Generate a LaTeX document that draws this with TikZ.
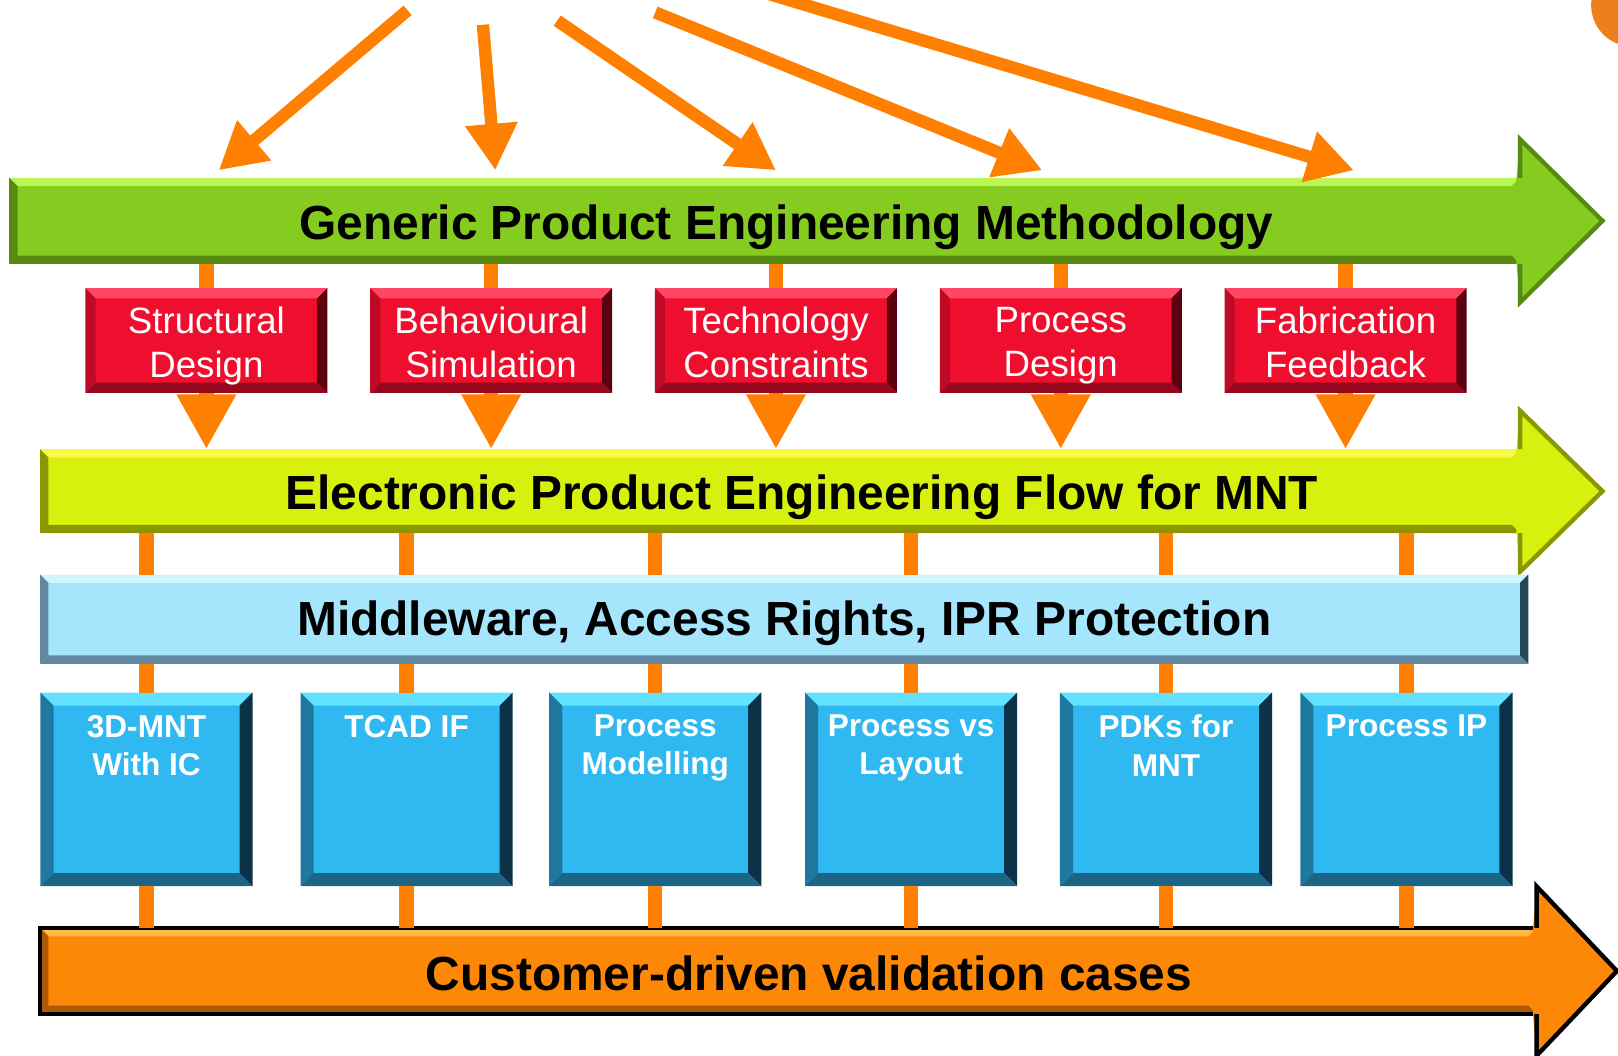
\documentclass[tikz,border=0pt]{standalone}
\usepackage{fontspec}
\setmainfont{Liberation Sans}
\usetikzlibrary{arrows.meta,positioning}

\definecolor{linkOrange}{RGB}{255,128,0}
\definecolor{circOrange}{RGB}{236,128,26}
\definecolor{greenBody}{RGB}{134,204,32}
\definecolor{greenLight}{RGB}{186,246,84}
\definecolor{greenDark}{RGB}{88,138,18}
\definecolor{limeBody}{RGB}{216,240,14}
\definecolor{limeLight}{RGB}{250,250,70}
\definecolor{limeDark}{RGB}{140,150,0}
\definecolor{mwBody}{RGB}{166,230,252}
\definecolor{mwLight}{RGB}{205,246,255}
\definecolor{mwDark}{RGB}{40,70,90}
\definecolor{mwShade}{RGB}{96,136,160}
\definecolor{cdvcBody}{RGB}{253,136,8}
\definecolor{cdvcLight}{RGB}{255,186,70}
\definecolor{cdvcDark}{RGB}{170,90,0}
\definecolor{redBody}{RGB}{240,14,46}
\definecolor{redLight}{RGB}{255,70,100}
\definecolor{redDark}{RGB}{90,0,15}
\definecolor{redShade}{RGB}{150,8,30}
\definecolor{redSide}{RGB}{190,10,38}
\definecolor{blueBody}{RGB}{48,184,240}
\definecolor{blueLight}{RGB}{100,225,255}
\definecolor{blueDark}{RGB}{12,50,72}
\definecolor{blueShade}{RGB}{30,100,135}
\definecolor{blueSide}{RGB}{30,120,160}

\newcommand{\bevel}[6]{
	\fill[#2] (#1.north west) -- (#1.north east) -- ([shift={(-#6,-#6)}]#1.north east) -- ([shift={(#6,-#6)}]#1.north west) -- cycle;
	\fill[#3] (#1.north east) -- (#1.south east) -- ([shift={(-#6,#6)}]#1.south east) -- ([shift={(-#6,-#6)}]#1.north east) -- cycle;
	\fill[#4] (#1.south east) -- (#1.south west) -- ([shift={(#6,#6)}]#1.south west) -- ([shift={(-#6,#6)}]#1.south east) -- cycle;
	\fill[#5] (#1.south west) -- (#1.north west) -- ([shift={(#6,-#6)}]#1.north west) -- ([shift={(#6,#6)}]#1.south west) -- cycle;
}

\newcommand{\arrowhead}[5]{
	\fill[#2] ([xshift=-1pt]#1.north east) -- ([yshift=#4]#1.east) -- (#5) -- ([yshift=-#4]#1.east) -- ([xshift=-1pt]#1.south east) -- cycle;
	\draw[#3, line width=1.2pt] (#1.north east) -- ([yshift=#4]#1.east) -- (#5) -- ([yshift=-#4]#1.east) -- (#1.south east);
}

\begin{document}
\begin{tikzpicture}[x=0.01cm, y=-0.01cm,
	bar/.style={minimum height=0.82cm, inner sep=0pt},
	bartext/.style={font=\fontsize{13.2}{16}\selectfont\bfseries, text=black},
	redbox/.style={fill=redBody, minimum width=2.33cm, minimum height=1cm, inner sep=0pt},
	redtext/.style={text=white, align=center, font=\fontsize{10.1}{12.2}\selectfont, inner sep=0pt, execute at begin node=\strut, execute at end node=\strut},
	bluebox/.style={fill=blueBody, minimum width=2.04cm, minimum height=1.86cm, inner sep=0pt},
	bluetext/.style={text=white, align=center, font=\fontsize{8.7}{10.5}\selectfont\bfseries, inner sep=0pt},
	link/.style={draw=linkOrange, line width=0.14cm},
	feed/.style={draw=linkOrange, line width=0.12cm, -{Triangle[width=0.48cm, length=0.45cm]}},
]
\clip (0,0) rectangle (1568,1023);

\fill[circOrange] (1582,5) circle (0.4cm);

\node[bar, fill=greenBody, minimum width=14.62cm] (gpem) at (741,214) {};
\bevel{gpem}{greenLight}{greenBody}{greenDark}{greenDark}{2.3pt}
\arrowhead{gpem}{greenBody}{greenDark}{0.79cm}{1553,214}
\node[bartext] (gpemtext) at (762,220) {Generic Product Engineering Methodology};

\node[bar, fill=limeBody, minimum width=14.32cm, minimum height=0.8cm] (epef) at (756,476) {};
\bevel{epef}{limeLight}{limeBody}{limeDark}{limeDark}{2.3pt}
\arrowhead{epef}{limeBody}{limeDark}{0.78cm}{1553,476}
\node[bartext] (epeftext) at (777,482) {Electronic Product Engineering Flow for MNT};

\node[bar, fill=mwBody, minimum width=14.4cm, minimum height=0.85cm] (mw) at (760,600) {};
\bevel{mw}{mwLight}{mwDark}{mwShade}{mwShade}{2.3pt}
\node[bartext] (mwtext) at (760,604) {Middleware, Access Rights, IPR Protection};

\node[bar, fill=cdvcBody, minimum width=14.48cm] (cdvc) at (764,941) {};
\bevel{cdvc}{cdvcLight}{cdvcBody}{cdvcDark}{cdvcDark}{2.3pt}
\draw[black, line width=1.2pt] (cdvc.north east) -- (cdvc.north west) -- (cdvc.south west) -- (cdvc.south east);
\arrowhead{cdvc}{cdvcBody}{black}{0.82cm}{1567,941}
\node[bartext] (cdvctext) at (784,943) {Customer-driven validation cases};

\foreach \i/\sx/\sy/\tx in {1/395/10/212, 2/468/24/480, 3/540/20/752, 4/635/12/1010, 5/738/-8/1312} {
	\coordinate (s\i) at (\sx,\sy);
	\coordinate (e\i) at (\tx,165);
	\draw[feed] (s\i) -- (e\i);
}

\foreach \i/\x/\txt in {1/200/{Structural\\Design}, 2/476/{Behavioural\\Simulation}, 3/752/{Technology\\Constraints}, 4/1028/{Process\\Design}, 5/1304/{Fabrication\\Feedback}} {
	\node[redbox] (r\i) at (\x,330) {};
	\bevel{r\i}{redLight}{redDark}{redShade}{redSide}{2.8pt}
	\node[redtext] (rt\i) at ([yshift=-0.08cm]r\i.center) {\txt};
	\draw[link] (gpem.south -| r\i.north) -- (r\i.north);
	\draw[link, -{Triangle[width=0.54cm, length=0.53cm]}] (r\i.south) -- (epef.north -| r\i.south);
}

\foreach \i/\x/\txt in {1/142/{3D-MNT\\With IC}, 2/394/{TCAD IF}, 3/635/{Process\\Modelling}, 4/883/{Process vs\\Layout}, 5/1130/{PDKs for\\MNT}, 6/1363/{Process IP}} {
	\node[bluebox] (b\i) at (\x,765) {};
	\bevel{b\i}{blueLight}{blueDark}{blueShade}{blueSide}{3.6pt}
	\node[bluetext, below=0.21cm of b\i.north] (t\i) {\txt};
	\draw[link] (epef.south -| b\i) -- (mw.north -| b\i);
	\draw[link] (mw.south -| b\i) -- (b\i.north);
	\draw[link] (b\i.south) -- (cdvc.north -| b\i);
}
\end{tikzpicture}
\end{document}
